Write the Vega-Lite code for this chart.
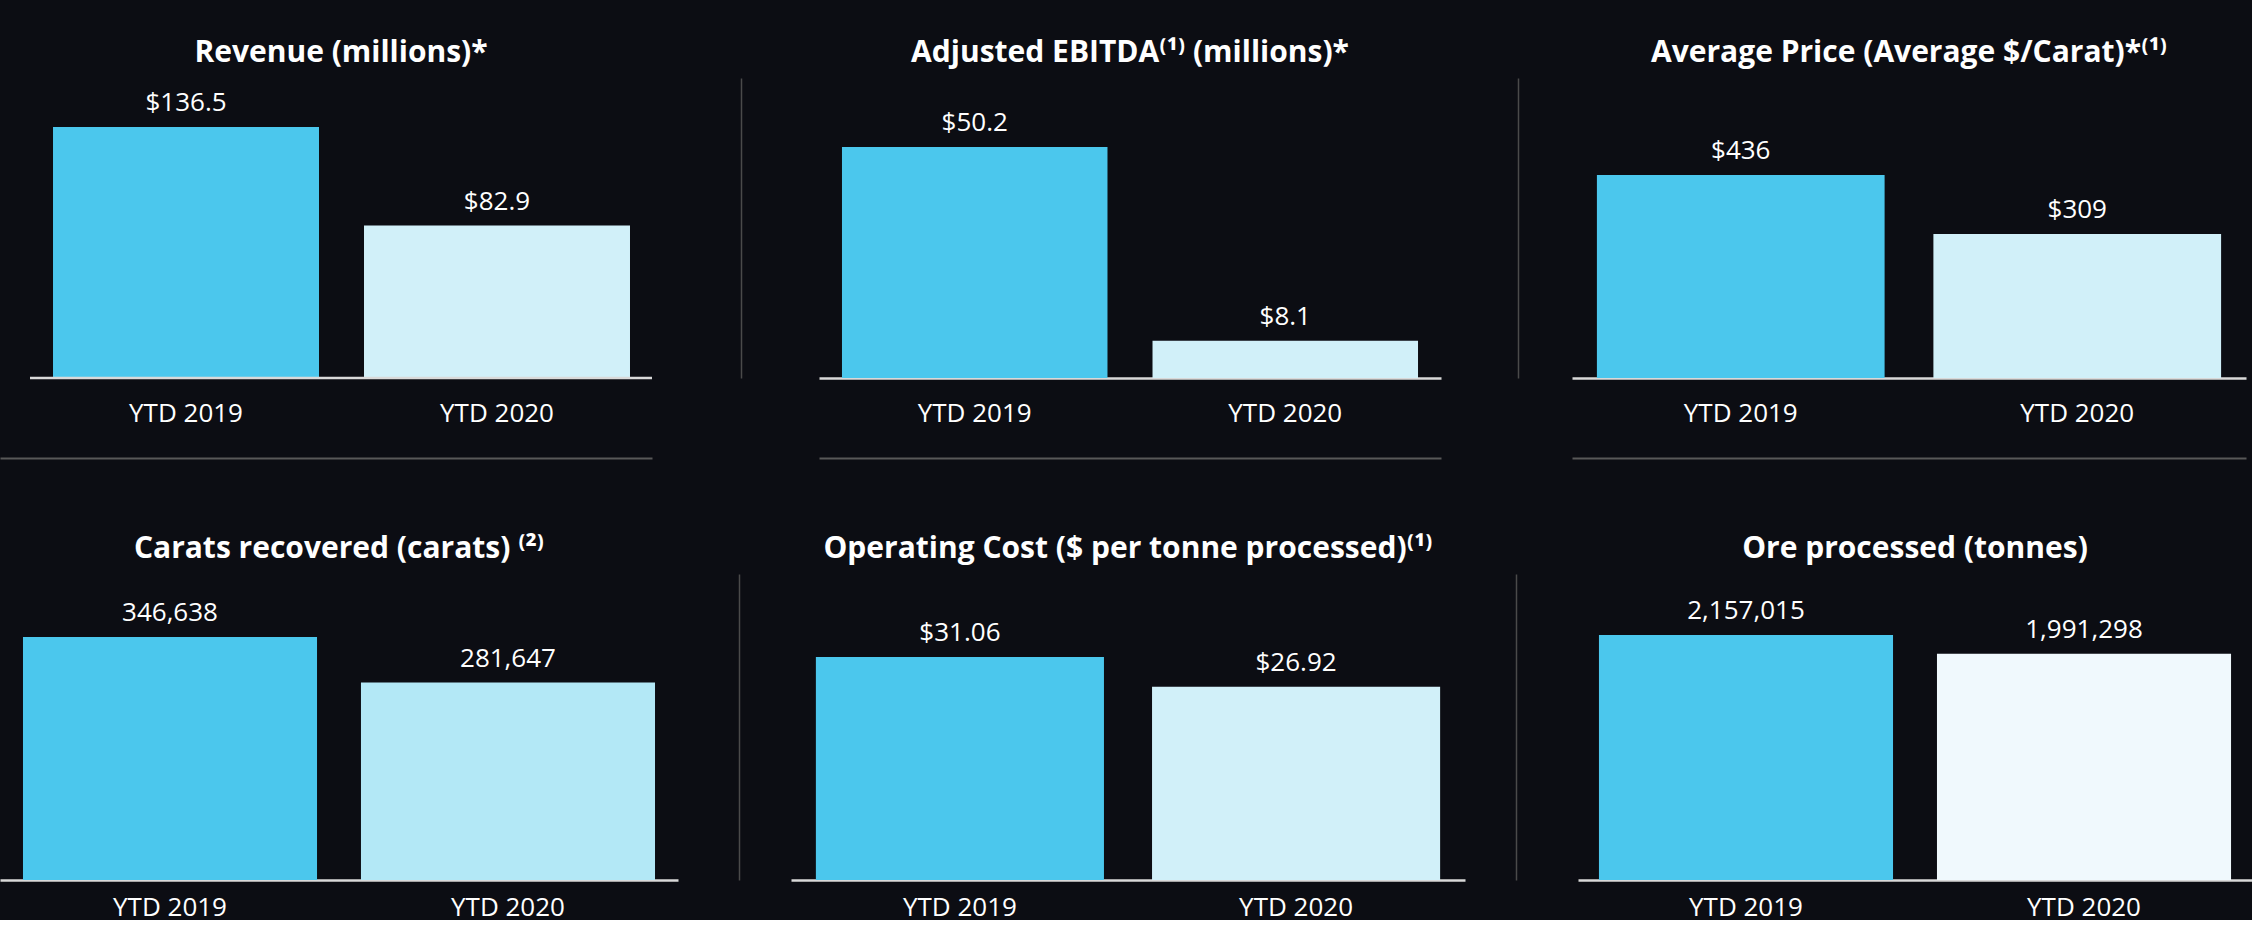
{
  "$schema": "https://vega.github.io/schema/vega-lite/v6.json",
  "background": "#0c0d13",
  "padding": {"top": 38, "left": 0, "right": 0, "bottom": 0},
  "config": {
    "view": {"stroke": null},
    "font": "Open Sans",
    "title": {"fontSize": 30, "font": "Open Sans", "fontWeight": "bold", "color": "#ffffff", "frame": "group", "anchor": "middle", "offset": 10},
    "axisX": {"labelFontSize": 26, "labelColor": "#ffffff", "labelFont": "Open Sans", "ticks": false, "domainColor": "#d9d9d9", "domainWidth": 2.5, "labelPadding": 22, "title": null, "labelAngle": 0, "grid": false},
    "axisY": {"labels": false, "ticks": false, "grid": false, "title": null, "domainColor": "#4a4a4a", "domainWidth": 1.5},
    "text": {"font": "Open Sans", "fontSize": 26, "color": "#ffffff", "baseline": "alphabetic", "dy": -16},
    "legend": {"disable": true}
  },
  "resolve": {"scale": {"color": "independent"}},
  "spacing": 76,
  "vconcat": [
    {
      "spacing": 0,
      "resolve": {"scale": {"color": "independent"}},
      "hconcat": [
        {
          "width": 652, "height": 300,
          "title": {"text": "Revenue (millions)*", "dx": 15},
          "data": {"values": [{"period": "YTD 2019", "value": 136.5}, {"period": "YTD 2020", "value": 82.9}]},
          "resolve": {"axis": {"x": "independent"}},
          "encoding": {
            "x": {"field": "period", "type": "nominal", "sort": null, "scale": {"paddingInner": 0.1447, "paddingOuter": 0.1206, "align": 0.7067}, "axis": {"domain": false}},
            "y": {"field": "value", "type": "quantitative", "scale": {"domain": [0, 163.15], "nice": false}, "axis": null}
          },
          "layer": [
            {"mark": "bar", "encoding": {"color": {"field": "period", "type": "nominal", "scale": {"range": ["#4BC7ED", "#D1F0F9"]}}}},
            {"mark": {"type": "rule", "color": "#d9d9d9", "strokeWidth": 2.5}, "encoding": {
              "x": {"field": "period", "type": "nominal", "sort": null, "bandPosition": -0.0865, "axis": null},
              "x2": {"field": "period", "bandPosition": 1.0827},
              "y": {"datum": 0}}},
            {"mark": "text", "encoding": {
              "x": {"field": "period", "type": "nominal", "sort": null, "axis": {"orient": "bottom", "offset": 80, "labels": false, "domainColor": "#585858", "domainWidth": 2}},
              "text": {"field": "value", "type": "quantitative", "format": "$.1f"}}}
          ]
        },
        {
          "width": 622, "height": 300,
          "title": "Adjusted EBITDA⁽¹⁾ (millions)*",
          "data": {"values": [{"period": "YTD 2019", "value": 50.2}, {"period": "YTD 2020", "value": 8.1}]},
          "resolve": {"axis": {"x": "independent"}},
          "encoding": {
            "x": {"field": "period", "type": "nominal", "sort": null, "scale": {"paddingInner": 0.145, "paddingOuter": 0.074}},
            "y": {"field": "value", "type": "quantitative", "scale": {"domain": [0, 65.19], "nice": false}, "axis": {"offset": 78, "minExtent": 87, "maxExtent": 87}}
          },
          "layer": [
            {"mark": "bar", "encoding": {"color": {"field": "period", "type": "nominal", "scale": {"range": ["#4BC7ED", "#D1F0F9"]}}}},
            {"mark": "text", "encoding": {
              "x": {"field": "period", "type": "nominal", "sort": null, "axis": {"orient": "bottom", "offset": 80, "labels": false, "domainColor": "#585858", "domainWidth": 2}},
              "text": {"field": "value", "type": "quantitative", "format": "$.1f"}}}
          ]
        },
        {
          "width": 674, "height": 300,
          "title": "Average Price (Average $/Carat)*⁽¹⁾",
          "data": {"values": [{"period": "YTD 2019", "value": 436}, {"period": "YTD 2020", "value": 309}]},
          "resolve": {"axis": {"x": "independent"}},
          "encoding": {
            "x": {"field": "period", "type": "nominal", "sort": null, "scale": {"paddingInner": 0.145, "paddingOuter": 0.074}},
            "y": {"field": "value", "type": "quantitative", "scale": {"domain": [0, 644.3], "nice": false}, "axis": {"offset": 54, "minExtent": 77, "maxExtent": 77}}
          },
          "layer": [
            {"mark": "bar", "encoding": {"color": {"field": "period", "type": "nominal", "scale": {"range": ["#4BC7ED", "#D1F0F9"]}}}},
            {"mark": "text", "encoding": {
              "x": {"field": "period", "type": "nominal", "sort": null, "axis": {"orient": "bottom", "offset": 80, "labels": false, "domainColor": "#585858", "domainWidth": 2}},
              "text": {"field": "value", "type": "quantitative", "format": "$.0f"}}}
          ]
        }
      ]
    },
    {
      "spacing": 0,
      "resolve": {"scale": {"color": "independent"}},
      "hconcat": [
        {
          "width": 678, "height": 306,
          "title": "Carats recovered (carats) ⁽²⁾",
          "data": {"values": [{"period": "YTD 2019", "value": 346638}, {"period": "YTD 2020", "value": 281647}]},
          "encoding": {
            "x": {"field": "period", "type": "nominal", "sort": null, "scale": {"paddingInner": 0.13, "paddingOuter": 0.068}, "axis": {"labelPadding": 14}},
            "y": {"field": "value", "type": "quantitative", "scale": {"domain": [0, 436507], "nice": false}, "axis": null}
          },
          "layer": [
            {"mark": "bar", "encoding": {"color": {"field": "period", "type": "nominal", "scale": {"range": ["#4BC7ED", "#B3E8F6"]}}}},
            {"mark": "text", "encoding": {"text": {"field": "value", "type": "quantitative", "format": ","}}}
          ]
        },
        {
          "width": 674, "height": 306,
          "title": "Operating Cost ($ per tonne processed)⁽¹⁾",
          "data": {"values": [{"period": "YTD 2019", "value": 31.06}, {"period": "YTD 2020", "value": 26.92}]},
          "encoding": {
            "x": {"field": "period", "type": "nominal", "sort": null, "scale": {"paddingInner": 0.143, "paddingOuter": 0.074}, "axis": {"labelPadding": 14}},
            "y": {"field": "value", "type": "quantitative", "scale": {"domain": [0, 42.62], "nice": false}, "axis": {"offset": 52, "minExtent": 61, "maxExtent": 61}}
          },
          "layer": [
            {"mark": "bar", "encoding": {"color": {"field": "period", "type": "nominal", "scale": {"range": ["#4BC7ED", "#D1F0F9"]}}}},
            {"mark": "text", "encoding": {"text": {"field": "value", "type": "quantitative", "format": "$.2f"}}}
          ]
        },
        {
          "width": 674, "height": 306,
          "title": "Ore processed (tonnes)",
          "data": {"values": [{"period": "YTD 2019", "value": 2157015}, {"period": "YTD 2020", "value": 1991298}]},
          "encoding": {
            "x": {"field": "period", "type": "nominal", "sort": null, "scale": {"paddingInner": 0.13, "paddingOuter": 0.062}, "axis": {"labelPadding": 14}},
            "y": {"field": "value", "type": "quantitative", "scale": {"domain": [0, 2694047], "nice": false}, "axis": {"offset": 62, "minExtent": 51, "maxExtent": 51}}
          },
          "layer": [
            {"mark": "bar", "encoding": {"color": {"field": "period", "type": "nominal", "scale": {"range": ["#4BC7ED", "#F0F9FD"]}}}},
            {"mark": "text", "encoding": {"text": {"field": "value", "type": "quantitative", "format": ","}}}
          ]
        }
      ]
    }
  ]
}
